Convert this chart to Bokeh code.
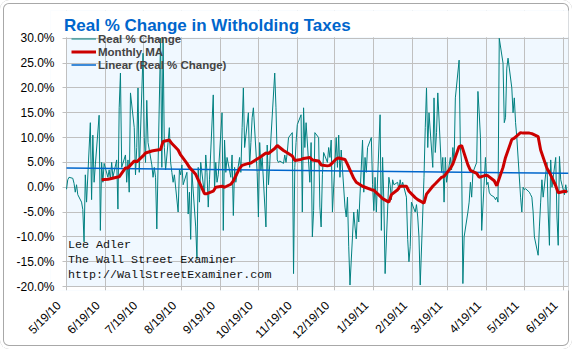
import math
import pandas as pd
from bokeh.plotting import figure
from bokeh.models import (ColumnDataSource, FixedTicker, PrintfTickFormatter, Legend,
                          LegendItem, Label, Range1d, BoxAnnotation)
from bokeh.embed import file_html
from bokeh.resources import INLINE

# ---------------- data ----------------
title_text = "Real % Change in Witholding Taxes"
start_date = "2010-05-19"
end_date = "2011-06-23"
x_tick_labels = ["5/19/10", "6/19/10", "7/19/10", "8/19/10", "9/19/10", "10/19/10",
                 "11/19/10", "12/19/10", "1/19/11", "2/19/11", "3/19/11", "4/19/11",
                 "5/19/11", "6/19/11"]
y_ticks = [-20, -15, -10, -5, 0, 5, 10, 15, 20, 25, 30]

# daily (business day) real % change
real_change = [
    -0.4, 1.5, 2.0, 1.8, 0.8,
    -1.0, 0.5, -1.5, -3.0, -4.5,
    -11.0, 2.5, -3.0, 13.0, -2.5,
    10.5, 1.0, 4.5, 14.5, -8.7,
    5.0, 1.0, 4.8, 2.0, 3.5,
    1.5, 5.0, 2.0, 5.5, -4.4,
    16.0, 23.0, 4.0, 6.5, 1.0,
    5.5, -1.0, 19.0, 12.0, 2.5,
    8.0, 20.0, 3.0, 27.0, 10.0,
    5.0, 17.5, 9.0, 4.5, 2.0,
    4.0, 2.0, -8.4, 30.0, 4.0,
    30.0, 8.0, 3.5, 12.0, 5.0,
    3.0, 1.0, 2.5, -5.0, 3.5,
    2.5, 4.5, 0.5, 3.0, -5.4,
    -1.0, -10.5, 3.0, -8.0, -14.4,
    4.0, -3.0, 5.0, -1.5, 6.5,
    3.0, -4.0, 1.5, 18.6, -0.5,
    5.0, 1.0, 2.5, 15.0, -8.7,
    9.5, 3.0, 6.0, 2.0, 6.5,
    -5.7, 4.0, 1.0, 6.0, 3.0,
    12.0, 20.0, 8.0, 15.0, 4.0,
    9.0, 14.0, 16.0, 3.0, -6.0,
    9.0, 3.5, 6.0, -8.0, 8.5,
    0.5, 4.5, 10.0, 23.0, 16.0,
    5.5, 5.0, 5.3, 4.8, 6.5,
    5.0, 7.0, 10.0, 11.0, -17.4,
    4.0, 9.0, 12.6, 14.6, -5.0,
    16.0, 8.0, 13.0, 1.0, 9.0,
    -10.0, -4.7, 11.0, 10.0, -4.0,
    -8.0, 2.5, 7.0, 5.0, 8.0,
    6.0, 9.5, -5.0, 10.0, 4.0,
    10.5, 2.0, 7.5, -4.0, -6.0,
    -2.0, -12.0, -19.7, -5.0, -8.0,
    -10.4, -4.5, -7.0, 9.5, -1.0,
    6.0, 3.0, 8.0, 10.0, 0.5,
    -4.7, 2.0, -5.0, 14.6, -8.7,
    6.0, -3.0, -17.4, 2.0, 0.5,
    -2.5, 1.5, 0.5, 1.0, -0.5,
    1.5, 0.0, 1.0, -2.0, -10.5,
    -15.0, -12.0, -3.0, -5.0, -3.5,
    -6.0, -10.0, -19.7, 2.0, 12.0,
    20.0, 8.0, 15.0, 4.0, 18.0,
    7.0, 11.0, 19.0, 3.0, 6.0,
    -3.0, 6.0, 1.0, 6.0, 3.5,
    8.0, 5.0, 18.0, 25.6, 8.0,
    5.0, -19.4, -10.0, -5.0, -3.0,
    1.0, -2.0, 3.0, 5.0, 19.3,
    15.0, 10.0, -8.7, 6.0, 0.5,
    1.0, -1.0, -1.5, -2.0, -2.5,
    -2.0, -3.0, 30.0, 25.0, 13.0,
    14.0, 24.0, 26.0, 20.0, 15.0,
    18.0, 13.0, 10.0, -2.0, -5.0,
    0.0, -0.5, -0.3, -1.0, -1.5,
    -2.0, -5.0, -10.0, -13.7, -8.0,
    -3.0, 1.5, -2.0, 5.0, -5.0,
    -11.7, 5.5, 0.0, 6.0, -6.0,
    -11.7, 6.2, 1.5, -1.5, 0.5,
    -1.0, -0.8,
]

# monthly moving average, read twice a week (Wed / Mon) from the chart
monthly_ma = [
    1.5, 1.6, 1.7, 2.0, 2.1, 3.9, 3.9, 5.3, 5.1, 6.3,
    6.9, 7.3, 7.4, 7.6, 9.2, 9.5, 8.8, 7.5, 6.5, 4.8,
    4.0, 2.6, 1.5, -1.3, -1.3, -0.8, 0.0, 0.2, 0.0, 0.6,
    1.3, 3.8, 4.4, 4.8, 4.9, 5.7, 6.0, 6.9, 6.8, 7.8,
    8.4, 7.4, 7.1, 6.3, 5.4, 5.6, 5.8, 6.0, 5.5, 5.3,
    4.5, 4.3, 4.4, 5.7, 5.9, 5.6, 4.6, 1.8, 1.0, 0.2,
    0.0, -0.5, -0.6, -1.8, -2.3, -3.0, -1.5, -0.5, 0.2, 0.2,
    -0.8, -2.1, -2.5, -3.2, -1.4, 0.2, 0.7, 2.0, 2.2, 3.8,
    4.7, 8.2, 8.4, 4.5, 3.4, 2.8, 2.0, 2.4, 2.3, 1.3,
    0.3, 4.0, 6.0, 9.6, 9.9, 11.0, 10.9, 10.9, 10.8, 10.2,
    7.5, 3.8, 3.0, 0.3, -1.1, -0.8, -0.9,
]

# linear trend of the real % change (start, end)
trend_values = [3.9, 2.8]

notes = ["Lee Adler", "The Wall Street Examiner", "http://WallStreetExaminer.com"]

# ---------------- positions ----------------
t0 = pd.Timestamp(start_date)
dates = pd.bdate_range(start_date, periods=len(real_change))
x_teal = [(d - t0).days for d in dates]
red_idx = [i for k in range(4, 57) for i in (5 * k, 5 * k + 3)] + [285]
x_red = [x_teal[i] for i in red_idx]
x_end = (pd.Timestamp(end_date) - t0).days + 0.2
tick_pos = [(pd.to_datetime(s, format="%m/%d/%y") - t0).days for s in x_tick_labels]
LABEL_SHIFT = 6                                   # rotated labels sit left of their tick
label_pos = [t - LABEL_SHIFT for t in tick_pos]

FONT = "Liberation Sans"

W, H = 572, 349
FRAME_LEFT = 50
PX_PER_DAY = (568 - 66) / x_end                   # plot area 66..568 px
x_start = -(66 - FRAME_LEFT) / PX_PER_DAY
x_tick_edge = -4 / PX_PER_DAY                     # y ticks run from 62 to 66 px
FRAME_TOP, FRAME_BOTTOM = 10, 292
y_top = 30 + (38 - FRAME_TOP) / 5.0               # 5 px per percent
y_bottom = -20 - (FRAME_BOTTOM - 288) / 5.0

p = figure(width=W, height=H, output_backend="svg", toolbar_location=None, title=None,
           x_range=Range1d(x_start, x_end), y_range=Range1d(y_bottom, y_top),
           min_border_left=FRAME_LEFT, min_border_right=W - 568, min_border_top=FRAME_TOP,
           min_border_bottom=H - FRAME_BOTTOM)
p.background_fill_color = "#F0F8FF"
p.border_fill_alpha = 0
p.outline_line_color = None
p.styles = {"border-radius": "9px",
            "box-shadow": "inset 0 0 0 3px #FFFFFF, inset 0 0 0 4px #A8A8A8"}

# white areas of the frame that lie outside the plot area
p.add_layout(BoxAnnotation(right=0, fill_color="white", fill_alpha=1, line_color=None,
                           level="image"))
p.add_layout(BoxAnnotation(top=-20, fill_color="white", fill_alpha=1, line_color=None,
                           level="image"))
p.add_layout(BoxAnnotation(bottom=30.2, fill_color="white", fill_alpha=1, line_color=None,
                           level="underlay"))
p.add_layout(BoxAnnotation(right=x_tick_edge, fill_color="white", fill_alpha=1,
                           line_color=None, level="underlay"))

teal_src = ColumnDataSource(dict(x=x_teal, y=real_change))
red_src = ColumnDataSource(dict(x=x_red, y=monthly_ma))
trend_src = ColumnDataSource(dict(x=[x_teal[0], x_end], y=trend_values))

r_teal = p.line("x", "y", source=teal_src, line_color="#008080", line_width=1)
r_trend = p.line("x", "y", source=trend_src, line_color="#0066CC", line_width=1.5)
r_red = p.line("x", "y", source=red_src, line_color="#CC0000", line_width=3)

# axes
p.xaxis.ticker = FixedTicker(ticks=label_pos)
p.xaxis.major_label_overrides = {t: s for t, s in zip(label_pos, x_tick_labels)}
p.xaxis.major_label_orientation = math.pi / 4
p.xaxis.axis_line_color = None
p.xaxis.major_tick_line_color = None
p.xaxis.major_tick_out = 0
p.xaxis.major_tick_in = 0
p.xaxis.major_label_standoff = 13
p.xgrid.ticker = FixedTicker(ticks=tick_pos)

p.yaxis.ticker = FixedTicker(ticks=y_ticks)
p.yaxis.formatter = PrintfTickFormatter(format="%.1f%%")
p.yaxis.axis_line_color = None
p.yaxis.major_tick_line_color = None
p.yaxis.major_tick_out = 0
p.yaxis.major_tick_in = 0
p.yaxis.major_label_standoff = FRAME_LEFT - 54    # label right edges at x = 54 px
for ax in (p.xaxis, p.yaxis):
    ax.major_label_text_font = FONT
    ax.major_label_text_font_size = "12px"
    ax.major_label_text_color = "black"
    ax.minor_tick_line_color = None
p.xgrid.grid_line_color = "#C0C0C0"
p.ygrid.grid_line_color = "#C0C0C0"

dx = 62 - FRAME_LEFT   # screen offsets below were measured from x = 62 px

legend = Legend(items=[LegendItem(label="Real % Change", renderers=[r_teal]),
                       LegendItem(label="Monthly MA", renderers=[r_red]),
                       LegendItem(label="Linear (Real % Change)", renderers=[r_trend])],
                location=(5 + dx, 215))
legend.label_text_font = FONT
legend.label_text_font_size = "11.5px"
legend.label_text_font_style = "bold"
legend.glyph_width = 25
legend.glyph_height = 13
legend.label_height = 13
legend.label_standoff = 2
legend.spacing = 0
legend.padding = 4
legend.margin = 0
legend.background_fill_alpha = 0
legend.border_line_alpha = 0
p.add_layout(legend)

p.add_layout(Label(x=1.5 + dx, y=265, x_units="screen", y_units="screen", text=title_text,
                   text_font=FONT, text_font_size="17px", text_font_style="bold",
                   text_color="#0066CC", text_baseline="alphabetic"))

for i, s in enumerate(notes):
    p.add_layout(Label(x=5.5 + dx, y=45.5 - 15 * i, x_units="screen", y_units="screen", text=s,
                       text_font="Liberation Mono", text_font_size="11.7px",
                       text_color="#111111", text_baseline="middle"))

open("out.html", "w").write(file_html(p, INLINE))
